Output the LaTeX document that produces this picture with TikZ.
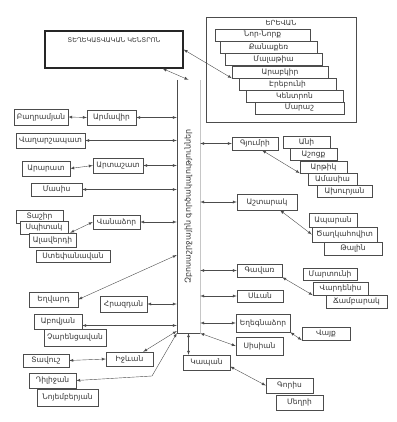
\documentclass[tikz,border=0pt]{standalone}
\usepackage{fontspec}
\newfontfamily\armfont[Script=Armenian]{DejaVu Sans}
\usetikzlibrary{arrows}
\definecolor{inkgray}{gray}{0.3}

\tikzset{
  town/.style={draw=inkgray, fill=white, inner sep=0.5pt, text=black!80,
    font=\armfont\fontsize{7.5}{8}\selectfont},
  conn/.style={latex-latex, draw=inkgray, thin},
}

\begin{document}
\begin{tikzpicture}[x=1pt,y=-1pt]
\useasboundingbox (0,0) rectangle (396,422);

% information centre and agencies column
\node[draw=black!85, line width=1.1pt, minimum width=138, minimum height=37] (info) at (114,49.5) {};
\node[font=\armfont\fontsize{6.5}{7}\selectfont, text=black!80] (infotext) at (114,40) {ՏԵՂԵԿԱՏՎԱԿԱՆ ԿԵՆՏՐՈՆ};
\node[minimum width=23, minimum height=253] (spine) at (188.5,206.5) {};
\draw[inkgray] (spine.north west) -- (spine.south west) -- (spine.south east);
\draw[gray!45] (spine.north east) -- (spine.south east);
\node[rotate=90, font=\armfont\fontsize{8}{9}\selectfont, text=black!80] (spinetext) at (spine.center) {Զբոսաշրջային գործակալություններ};

% Yerevan
\node[draw=inkgray, minimum width=150, minimum height=105] (yerevan) at (281,69.5) {};
\node[font=\armfont\fontsize{7}{8}\selectfont, text=black!80] (yerevantext) at (281,23) {ԵՐԵՎԱՆ};
\node[town, minimum width=95, minimum height=12] (d1) at (262.5,35) {Նոր-Նորք};
\node[town, minimum width=97, minimum height=12] (d2) at (268.5,47) {Քանաքեռ};
\node[town, minimum width=97, minimum height=12] (d3) at (273.5,59) {Մալաթիա};
\node[town, minimum width=96, minimum height=12] (d4) at (280,72) {Արաբկիր};
\node[town, minimum width=97, minimum height=12] (d5) at (287.5,84) {Էրեբունի};
\node[town, minimum width=97, minimum height=12] (d6) at (294.5,96) {Կենտրոն};
\node[town, minimum width=89, minimum height=12] (d7) at (299.5,108) {Մարաշ};

% left side
\node[town, minimum width=54, minimum height=16] (baghr) at (41,117) {Բաղրամյան};
\node[town, minimum width=49, minimum height=15] (armavir) at (111.5,117.5) {Արմավիր};
\node[town, minimum width=69, minimum height=15] (vagh) at (50.5,140.5) {Վաղարշապատ};
\node[town, minimum width=48, minimum height=15] (ararat) at (46,168.5) {Արարատ};
\node[town, minimum width=50, minimum height=15] (artashat) at (118,165.5) {Արտաշատ};
\node[town, minimum width=51, minimum height=13] (masis) at (56.5,189.5) {Մասիս};
\node[town, minimum width=47, minimum height=13] (tashir) at (39.5,216.5) {Տաշիր};
\node[town, minimum width=48, minimum height=13] (spitak) at (44,227.5) {Սպիտակ};
\node[town, minimum width=47, minimum height=14] (alaverdi) at (52.5,240) {Ալավերդի};
\node[town, minimum width=74, minimum height=12] (stepan) at (73,256) {Ստեփանավան};
\node[town, minimum width=47, minimum height=14] (vanadzor) at (116.5,222) {Վանաձոր};
\node[town, minimum width=49, minimum height=15] (yeghvard) at (53.5,299.5) {Եղվարդ};
\node[town, minimum width=47, minimum height=16] (hrazdan) at (123.5,304) {Հրազդան};
\node[town, minimum width=48, minimum height=15] (abovyan) at (58,321.5) {Աբովյան};
\node[town, minimum width=62, minimum height=17] (charents) at (75,337.5) {Չարենցավան};
\node[town, minimum width=47, minimum height=14] (ijevan) at (129.5,359) {Իջևան};
\node[town, minimum width=46, minimum height=13] (tavush) at (46,360.5) {Տավուշ};
\node[town, minimum width=47, minimum height=15] (dilijan) at (52.5,380.5) {Դիլիջան};
\node[town, minimum width=61, minimum height=17] (noyem) at (67.5,397.5) {Նոյեմբերյան};

% right side
\node[town, minimum width=46, minimum height=13] (gyumri) at (255,143.5) {Գյումրի};
\node[town, minimum width=47, minimum height=12] (s1) at (306.5,142) {Անի};
\node[town, minimum width=47, minimum height=12] (s2) at (313.5,154.5) {Աշոցք};
\node[town, minimum width=47, minimum height=12] (s3) at (323.5,167) {Արթիկ};
\node[town, minimum width=49, minimum height=12] (s4) at (332.5,179) {Ամասիա};
\node[town, minimum width=55, minimum height=12] (s5) at (344.5,191) {Ախուրյան};
\node[town, minimum width=60, minimum height=16] (ashtarak) at (267,202) {Աշտարակ};
\node[town, minimum width=48, minimum height=14] (aparan) at (333,220) {Ապարան};
\node[town, minimum width=65, minimum height=15] (tsaghk) at (344.5,234.5) {Ծաղկահովիտ};
\node[town, minimum width=58, minimum height=13] (talin) at (353,248.5) {Թալին};
\node[town, minimum width=45, minimum height=13] (gavar) at (259.5,270.5) {Գավառ};
\node[town, minimum width=46, minimum height=12] (sevan) at (260,296) {Սևան};
\node[town, minimum width=54, minimum height=12] (martuni) at (330,274) {Մարտունի};
\node[town, minimum width=55, minimum height=13] (vardenis) at (340.5,288.5) {Վարդենիս};
\node[town, minimum width=61, minimum height=13] (chambarak) at (356.5,301.5) {Ճամբարակ};
\node[town, minimum width=54, minimum height=18] (yeghegn) at (263,323) {Եղեգնաձոր};
\node[town, minimum width=48, minimum height=13] (vayk) at (326,333.5) {Վայք};
\node[town, minimum width=47, minimum height=18] (sisian) at (259.5,346) {Սիսիան};
\node[town, minimum width=47, minimum height=15] (kapan) at (206.5,362.5) {Կապան};
\node[town, minimum width=47, minimum height=15] (goris) at (289.5,385.5) {Գորիս};
\node[town, minimum width=47, minimum height=15] (meghri) at (299.5,402.5) {Մեղրի};

\coordinate (dilibend) at (152,376);

% connectors
\draw[conn] ([xshift=-21pt]info.south east) -- (spine.north);
\draw[conn] (info.east) -- (d4.south west);
\draw[conn] (baghr.east) -- (armavir.west);
\draw[conn] (armavir.east) -- (armavir.east -| spine.west);
\draw[conn] (vagh.east) -- (vagh.east -| spine.west);
\draw[conn] (ararat.east) -- (artashat.west);
\draw[conn] (artashat.east) -- (artashat.east -| spine.west);
\draw[conn] (masis.east) -- (masis.east -| spine.west);
\draw[conn] (vanadzor.west) -- ([xshift=-6pt]alaverdi.north east);
\draw[conn] (vanadzor.east) -- (vanadzor.east -| spine.west);
\draw[conn] (yeghvard.east) -- (spine.west |- 0,255);
\draw[conn] (hrazdan.east) -- (hrazdan.east -| spine.west);
\draw[conn] ([yshift=-4pt]abovyan.east) -- (spine.west |- 0,325.5);
\draw[conn] ([xshift=-10pt]ijevan.north east) -- (spine.west |- 0,331);
\draw[conn] (tavush.east) -- (ijevan.west);
\draw[conn] (dilijan.east) -- (dilibend) -- (spine.south west);
\draw[conn] (spine.south) -- (spine.south |- kapan.north);

\draw[conn] (gyumri.west -| spine.east) -- (gyumri.west);
\draw[conn] ([xshift=7pt]gyumri.south) -- (s3.south west);
\draw[conn] (ashtarak.west -| spine.east) -- (ashtarak.west);
\draw[conn] ([xshift=13pt]ashtarak.south) -- (tsaghk.west);
\draw[conn] (gavar.west -| spine.east) -- (gavar.west);
\draw[conn] (gavar.south east) -- (vardenis.south west);
\draw[conn] (sevan.west -| spine.east) -- (sevan.west);
\draw[conn] (yeghegn.west -| spine.east) -- (yeghegn.west);
\draw[conn] (yeghegn.south east) -- (vayk.south west);
\draw[conn] (spine.south east) -- (sisian.west);
\draw[conn] ([yshift=-4pt]kapan.east) -- (goris.west);
\end{tikzpicture}
\end{document}
